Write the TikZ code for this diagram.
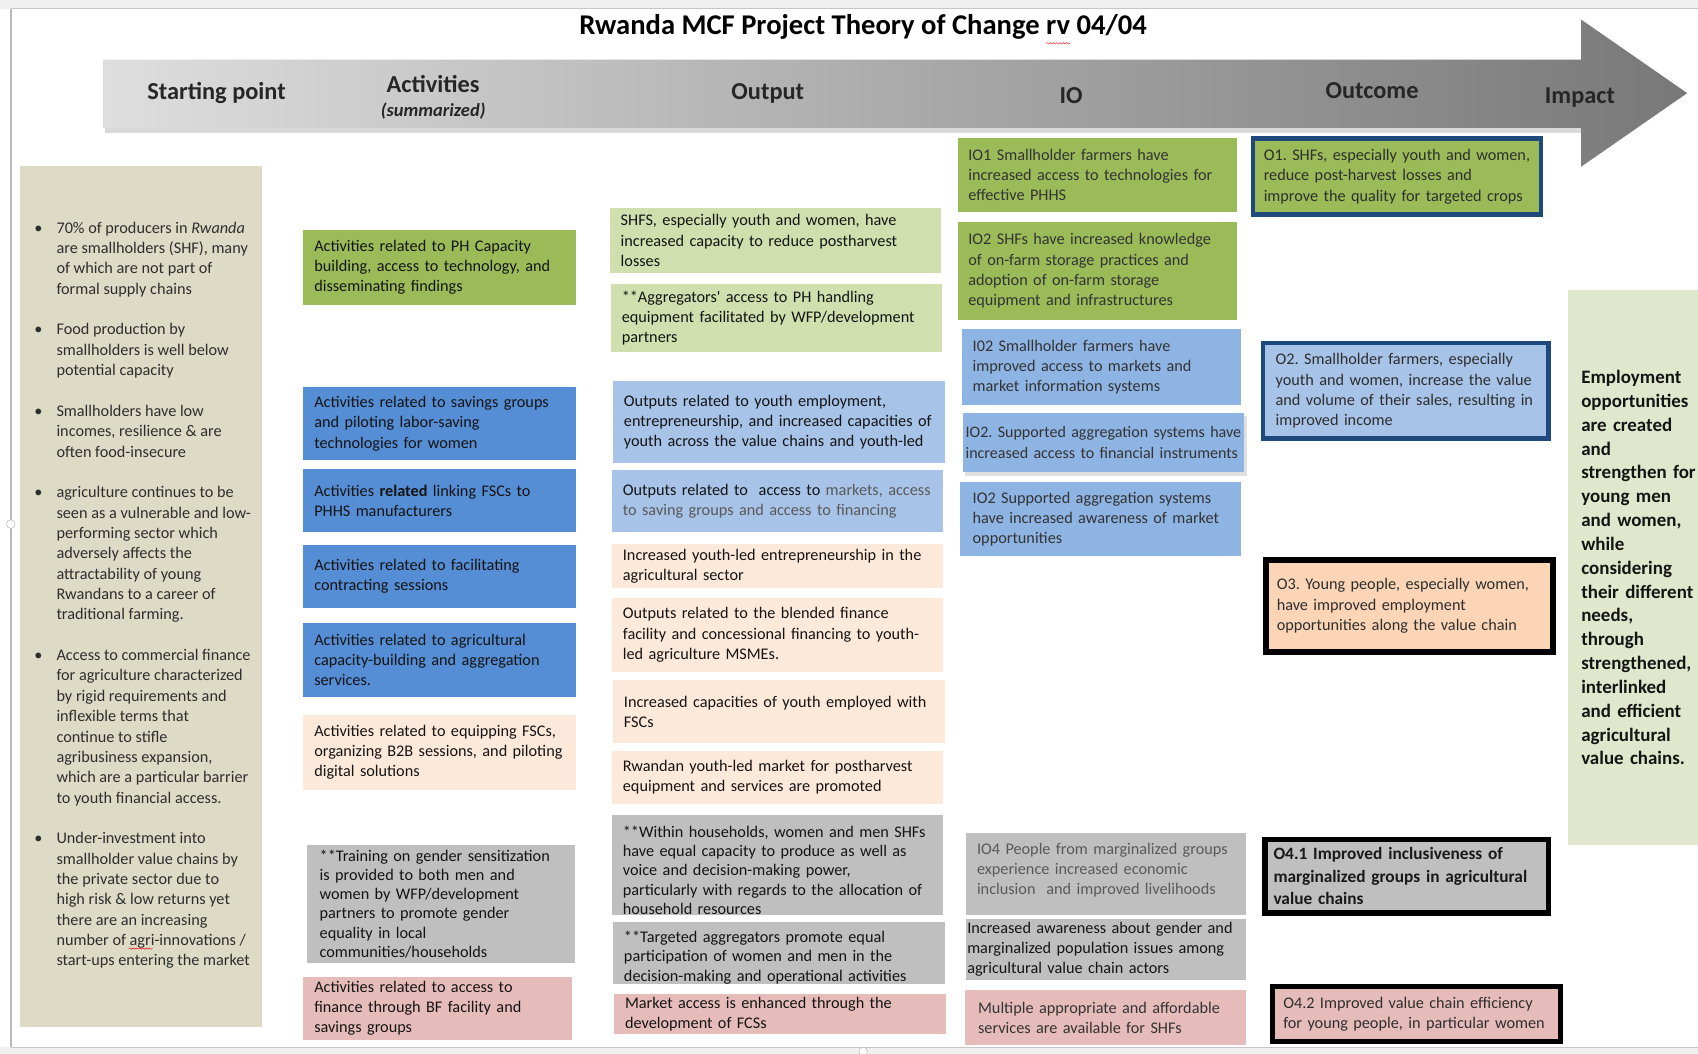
\documentclass[tikz,border=0pt]{standalone}
\usepackage{fontspec}
\setmainfont{Carlito}
\usepackage{tikz}
\usetikzlibrary{positioning, shadows, decorations.pathmorphing}
\usepackage{xcolor}
\frenchspacing

\definecolor{startbg}{HTML}{DDDAC5}
\definecolor{impbg}{HTML}{DFE8CD}
\definecolor{green1}{HTML}{9BBB59}
\definecolor{green2}{HTML}{D0DFAE}
\definecolor{blue1}{HTML}{558ED5}
\definecolor{blue2}{HTML}{A7C3E8}
\definecolor{blue3}{HTML}{8EB4E3}
\definecolor{peach1}{HTML}{FDE9D9}
\definecolor{peach2}{HTML}{FBD5B5}
\definecolor{grey1}{HTML}{BFBFBF}
\definecolor{pink1}{HTML}{E6BCBB}
\definecolor{navy1}{HTML}{1F497D}
\definecolor{arrowL}{HTML}{DEDEDE}
\definecolor{arrowR}{HTML}{787878}
\definecolor{txtgrey}{HTML}{595959}

\begin{document}
\begin{tikzpicture}[x=1pt, y=-1pt,
    box/.style={fill=#1, anchor=north west, align=left, inner xsep=10pt,
                inner ysep=0pt, font=\fontsize{15}{18.7}\selectfont,
                text=black!92},
    act/.style={box=#1, text width=232pt},
    outp/.style={box=#1, text width=286pt},
    io/.style={box=#1, text width=238pt, text=black!80},
    outc/.style={box=#1, line width=4pt, text=black!82},
    head/.style={font=\fontsize{22.5}{26}\selectfont\bfseries, text=black!85},
    squig/.style={red, thin, decorate,
                  decoration={snake, amplitude=0.7pt, segment length=3pt}}
]
\useasboundingbox (0,0) rectangle (1568,973);

% ---- page edges ----
\fill[gray!12] (0,0) rectangle (1568,8);
\draw[gray!45] (10,8) -- (1568,8);
\fill[gray!12] (0,967) rectangle (1568,973);
\draw[gray!45] (10,967) -- (1568,967);
\draw[gray!55, line width=1.5pt] (10,8) -- (10,967);
\draw[gray!60, fill=white] (10,484) circle (4pt);
\draw[gray!60, fill=white] (797,971) circle (4pt);

% ---- title + big arrow ----
\node[font=\fontsize{26.4}{30}\selectfont\bfseries] (title) at (797,25)
      {Rwanda MCF Project Theory of Change rv 04/04};
\draw[squig] (966,40) -- (988,40);
\fill[black!15] (97,118) rectangle (1460,123);
\shade[left color=arrowL, right color=arrowR]
      (95,55) -- (1460,55) -- (1460,18) -- (1558,86) -- (1460,154)
      -- (1460,118) -- (95,118) -- cycle;
\node[head] (hstart) at (200,86)  {Starting point};
\node[head] (hact)   at (400,78)  {Activities};
\node[font=\fontsize{17}{19}\selectfont\bfseries\itshape, text=black!85]
      (hsum) at (400,103) {(summarized)};
\node[head] (hout)   at (709,86)  {Output};
\node[head] (hio)    at (989,88)  {IO};
\node[head] (hocm)   at (1267,84) {Outcome};
\node[head] (himp)   at (1459,90) {Impact};

% ---- Starting point ----
\node[box=startbg, minimum width=224pt, minimum height=795pt] (start)
      at (18,153) {};
\node[anchor=west, align=left, inner sep=0pt, text=black!82,
      font=\fontsize{15}{18.8}\selectfont] (startxt)
      at ([xshift=34pt, yshift=1pt]start.west) {%
  \llap{\textbullet\hspace{13pt}}70\% of producers in \textit{Rwanda}\\
  are smallholders (SHF), many\\
  of which are not part of\\
  formal supply chains\\[18.8pt]
  \llap{\textbullet\hspace{13pt}}Food production by\\
  smallholders is well below\\
  potential capacity\\[18.8pt]
  \llap{\textbullet\hspace{13pt}}Smallholders have low\\
  incomes, resilience \& are\\
  often food-insecure\\[18.8pt]
  \llap{\textbullet\hspace{13pt}}agriculture continues to be\\
  seen as a vulnerable and low-\\
  performing sector which\\
  adversely affects the\\
  attractability of young\\
  Rwandans to a career of\\
  traditional farming.\\[18.8pt]
  \llap{\textbullet\hspace{13pt}}Access to commercial finance\\
  for agriculture characterized\\
  by rigid requirements and\\
  inflexible terms that\\
  continue to stifle\\
  agribusiness expansion,\\
  which are a particular barrier\\
  to youth financial access.\\[18.8pt]
  \llap{\textbullet\hspace{13pt}}Under-investment into\\
  smallholder value chains by\\
  the private sector due to\\
  high risk \& low returns yet\\
  there are an increasing\\
  number of agri-innovations /\\
  start-ups entering the market};
\draw[squig] (119,876) -- (141,876);

% ---- Activities ----
\node[act=green1, minimum height=69pt] (act1) at (280,212)
      {Activities related to PH Capacity\\building, access to technology, and\\disseminating findings};
\node[act=blue1, minimum height=68pt] (act2) at (280,357)
      {Activities related to savings groups\\and piloting labor-saving\\technologies for women};
\node[act=blue1, minimum height=58pt] (act3) at (280,433)
      {Activities \textbf{related} linking FSCs to\\PHHS manufacturers};
\node[act=blue1, minimum height=58pt] (act4) at (280,503)
      {Activities related to facilitating\\contracting sessions};
\node[act=blue1, minimum height=68pt] (act5) at (280,575)
      {Activities related to agricultural\\capacity-building and aggregation\\services.};
\node[act=peach1, minimum height=69pt] (act6) at (280,660)
      {Activities related to equipping FSCs,\\organizing B2B sessions, and piloting\\digital solutions};
\node[act=grey1, text width=224pt, inner xsep=12pt, minimum height=109pt,
      font=\fontsize{15}{17.8}\selectfont] (act7) at (283,780)
      {**Training on gender sensitization\\is provided to both men and\\women by WFP/development\\partners to promote gender\\equality in local\\communities/households};
\node[act=pink1, text width=228pt, minimum height=58pt] (act8) at (280,902)
      {Activities related to access to\\finance through BF facility and\\savings groups};

% ---- Output ----
\node[outp=green2, minimum height=60pt] (out1) at (563,192)
      {SHFS, especially youth and women, have\\increased capacity to reduce postharvest\\losses};
\node[outp=green2, minimum height=63pt] (out2) at (564,262)
      {**Aggregators\textquotesingle{} access to PH handling\\equipment facilitated by WFP/development\\partners};
\node[outp=blue2, minimum height=75pt] (out3) at (566,352)
      {Outputs related to youth employment,\\entrepreneurship, and increased capacities of\\youth across the value chains and youth-led};
\node[outp=blue2, minimum height=57pt] (out4) at (565,434)
      {Outputs related to\ \ access to \textcolor{txtgrey}{markets, access}\\\textcolor{txtgrey}{to saving groups and access to financing}};
\node[outp=peach1, minimum height=41pt] (out5) at (565,502)
      {Increased youth-led entrepreneurship in the\\agricultural sector};
\node[outp=peach1, minimum height=68pt] (out6) at (565,552)
      {Outputs related to the blended finance\\facility and concessional financing to youth-\\led agriculture MSMEs.};
\node[outp=peach1, minimum height=58pt] (out7) at (566,628)
      {Increased capacities of youth employed with\\FSCs};
\node[outp=peach1, minimum height=49pt] (out8) at (565,693)
      {Rwandan youth-led market for postharvest\\equipment and services are promoted};
\node[outp=grey1, minimum height=92pt, font=\fontsize{15}{17.8}\selectfont]
      (out9) at (565,752)
      {\rule{0pt}{21pt}**Within households, women and men SHFs\\have equal capacity to produce as well as\\voice and decision-making power,\\particularly with regards to the allocation of\\household resources};
\node[outp=grey1, minimum height=57pt, font=\fontsize{15}{18}\selectfont]
      (out10) at (566,851)
      {\rule{0pt}{19pt}**Targeted aggregators promote equal\\participation of women and men in the\\decision-making and operational activities};
\node[outp=pink1, minimum height=37pt] (out11) at (567,918)
      {Market access is enhanced through the\\development of FCSs};

% ---- IO ----
\node[io=green1, minimum height=69pt] (io1) at (884,127)
      {IO1 Smallholder farmers have\\increased access to technologies for\\effective PHHS};
\node[io=green1, minimum height=90pt] (io2) at (884,205)
      {IO2 SHFs have increased knowledge\\of on-farm storage practices and\\adoption of on-farm storage\\equipment and infrastructures};
\node[io=blue3, minimum height=70pt] (io3) at (888,304)
      {I02 Smallholder farmers have\\improved access to markets and\\market information systems};
\node[io=blue3, inner xsep=0pt, text width=260pt, minimum height=55pt,
      font=\fontsize{14.8}{18.7}\selectfont,
      drop shadow={shadow xshift=2pt, shadow yshift=-3pt, opacity=0.25}]
      (io4) at (889,381)
      {\,IO2. Supported aggregation systems have\\\,increased access to financial instruments};
\node[io=blue3, inner xsep=12pt, text width=236pt, minimum height=68pt]
      (io5) at (886,445)
      {IO2 Supported aggregation systems\\have increased awareness of market\\opportunities};
\node[io=grey1, text=txtgrey, minimum height=76pt] (io6) at (892,769)
      {IO4 People from marginalized groups\\experience increased economic\\inclusion\ \ and improved livelihoods\rule[-10pt]{0pt}{0pt}};
\node[io=grey1, text=black!92, inner xsep=1pt, text width=256pt,
      minimum height=57pt] (io7) at (892,848)
      {Increased awareness about gender and\\marginalized population issues among\\agricultural value chain actors};
\node[io=pink1, inner xsep=12pt, text width=235pt, minimum height=51pt]
      (io8) at (891,914)
      {Multiple appropriate and affordable\\services are available for SHFs};

% ---- Outcome ----
\node[outc=green1, draw=navy1, text width=246pt, minimum height=70pt]
      (oc1) at (1155,126)
      {O1. SHFs, especially youth and women,\\reduce post-harvest losses and\\improve the quality for targeted crops};
\node[outc=blue2, draw=navy1, inner xsep=12pt, text width=240pt,
      minimum height=88pt] (oc2) at (1164,315)
      {O2. Smallholder farmers, especially\\youth and women, increase the value\\and volume of their sales, resulting in\\improved income};
\node[outc=peach2, draw=black, line width=5pt, text width=245pt,
      minimum height=85pt] (oc3) at (1166.5,514.5)
      {O3. Young people, especially women,\\have improved employment\\opportunities along the value chain};
\node[outc=grey1, draw=black, line width=5pt, inner xsep=8pt,
      text width=246pt, minimum height=68pt, text=black!90,
      font=\fontsize{16}{21}\selectfont\bfseries] (oc41) at (1165.5,772.5)
      {O4.1 Improved inclusiveness of\\marginalized groups in agricultural\\value chains};
\node[outc=pink1, draw=black, line width=5pt, text width=246pt,
      minimum height=51pt] (oc42) at (1172.5,908.5)
      {O4.2 Improved value chain efficiency\\for young people, in particular women};

% ---- Impact ----
\node[box=impbg, inner xsep=12pt, text width=124pt, minimum height=512pt,
      font=\fontsize{17.5}{22}\selectfont\bfseries] (impact) at (1448,268)
      {Employment\\opportunities\\are created\\and\\strengthen for\\young men\\and women,\\while\\considering\\their different\\needs,\\through\\strengthened,\\interlinked\\and efficient\\agricultural\\value chains.};

\end{tikzpicture}
\end{document}
